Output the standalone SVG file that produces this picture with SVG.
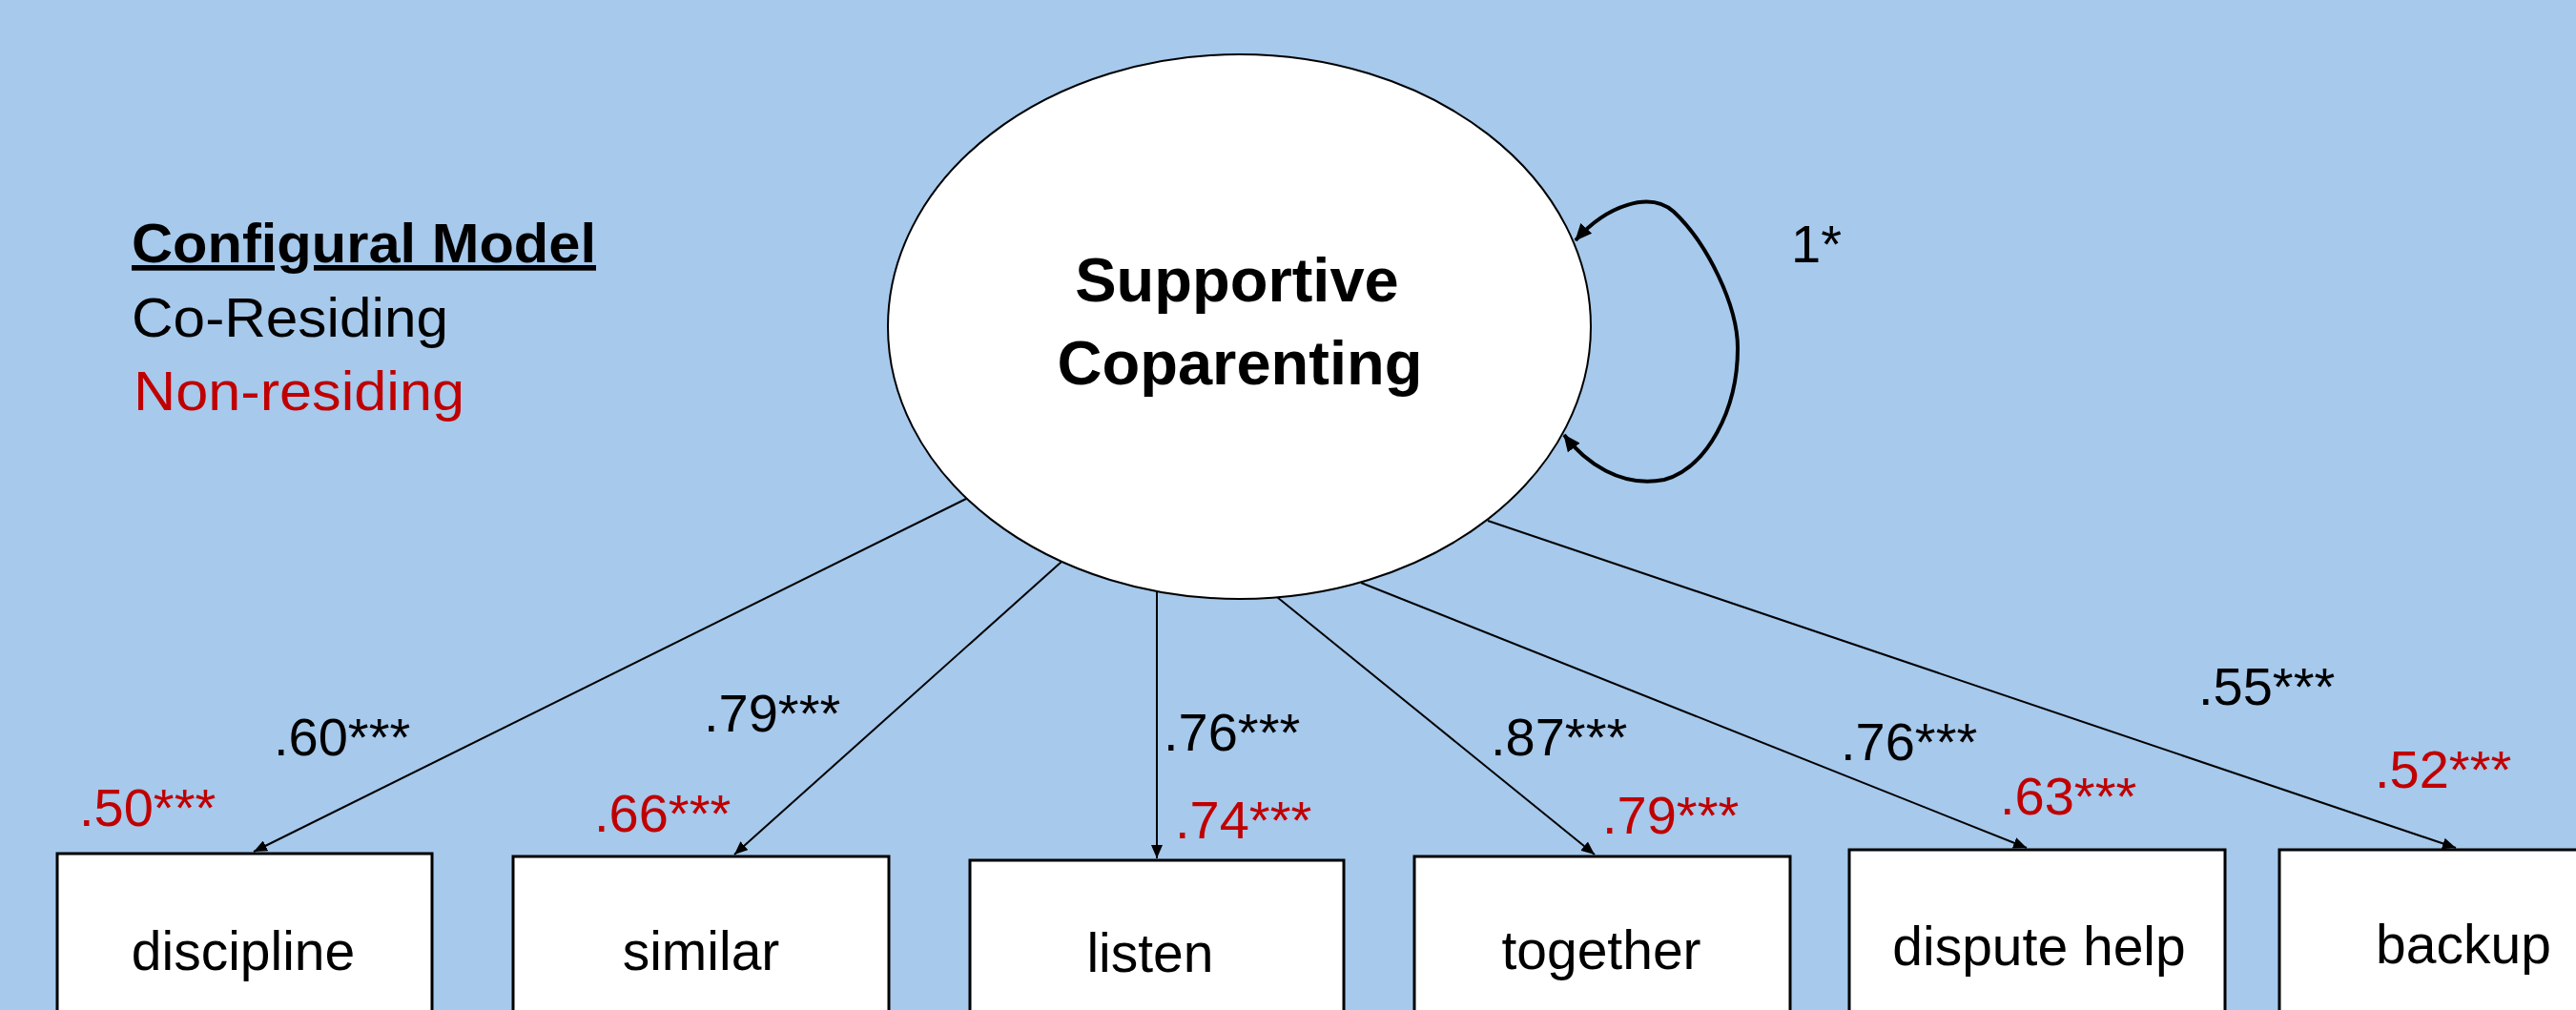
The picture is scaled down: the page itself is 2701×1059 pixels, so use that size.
<svg xmlns="http://www.w3.org/2000/svg" width="2701" height="1059" viewBox="0 0 2701 1059">
<style>
.bg{fill:#A6C9EC}
.box{fill:#FFFFFF;stroke:#000000;stroke-width:3}
.ell{fill:#FFFFFF;stroke:#000000;stroke-width:2}
.lbl{font-family:"Liberation Sans",Arial,sans-serif;font-size:57px;fill:#000000;text-anchor:middle}
.lat{font-family:"Liberation Sans",Arial,sans-serif;font-size:65px;font-weight:bold;fill:#000000;text-anchor:middle}
.coef{font-family:"Liberation Sans",Arial,sans-serif;font-size:56px;fill:#000000}
.leg{font-family:"Liberation Sans",Arial,sans-serif;font-size:57px;fill:#000000}
.edge{stroke:#000000;stroke-width:2;fill:none;marker-end:url(#arr)}
.loop{stroke:#000000;stroke-width:4;fill:none;marker-start:url(#arrL);marker-end:url(#arrL)}
text.red{fill:#C00000}
</style>
<defs>
<marker id="arr" markerUnits="userSpaceOnUse" markerWidth="14" markerHeight="12" refX="14" refY="6" orient="auto">
<path d="M0,0 L14,6 L0,12 z" fill="#000000"/>
</marker>
<marker id="arrL" markerUnits="userSpaceOnUse" markerWidth="18" markerHeight="16" refX="17" refY="8" orient="auto-start-reverse">
<path d="M0,0 L18,8 L0,16 z" fill="#000000"/>
</marker>
</defs>
<rect class="bg" x="0" y="0" width="2701" height="1059"/>

<g id="connectors">
<line class="edge" x1="1015" y1="522" x2="266" y2="893"/>
<line class="edge" x1="1113" y1="589" x2="770" y2="896"/>
<line class="edge" x1="1213" y1="621" x2="1213" y2="900"/>
<line class="edge" x1="1339" y1="626" x2="1672" y2="896"/>
<line class="edge" x1="1427" y1="611" x2="2125" y2="889"/>
<line class="edge" x1="1560" y1="546" x2="2575" y2="889"/>
<path class="loop" d="M1652,252 C1685,215 1730,200 1755,222 C1790,255 1822,320 1822,365 C1822,430 1790,490 1745,503 C1700,512 1662,485 1640,456"/>
</g>

<g id="supportive-coparenting">
<ellipse class="ell" cx="1299.5" cy="342.5" rx="368.5" ry="285.5"/>
<text class="lat" x="1297" y="316">Supportive</text>
<text class="lat" x="1300" y="403">Coparenting</text>
</g>

<g id="discipline">
<rect class="box" x="60" y="895" width="393" height="200"/>
<text class="lbl" x="255" y="1017">discipline</text>
</g>
<g id="similar">
<rect class="box" x="538" y="898" width="394" height="200"/>
<text class="lbl" x="735" y="1017">similar</text>
</g>
<g id="listen">
<rect class="box" x="1017" y="902" width="392" height="200"/>
<text class="lbl" x="1206" y="1019">listen</text>
</g>
<g id="together">
<rect class="box" x="1483" y="898" width="394" height="200"/>
<text class="lbl" x="1679" y="1016">together</text>
</g>
<g id="dispute-help">
<rect class="box" x="1939" y="891" width="394" height="200"/>
<text class="lbl" x="2138" y="1012">dispute help</text>
</g>
<g id="backup">
<rect class="box" x="2390" y="891" width="394" height="200"/>
<text class="lbl" x="2583" y="1010">backup</text>
</g>

<g id="coefficients">
<text class="coef" x="1878" y="275">1*</text>
<text class="coef" x="287" y="792">.60***</text>
<text class="coef red" x="83" y="866">.50***</text>
<text class="coef" x="738" y="767">.79***</text>
<text class="coef red" x="623" y="872">.66***</text>
<text class="coef" x="1220" y="787">.76***</text>
<text class="coef red" x="1232" y="879">.74***</text>
<text class="coef" x="1563" y="792">.87***</text>
<text class="coef red" x="1680" y="874">.79***</text>
<text class="coef" x="1930" y="797">.76***</text>
<text class="coef red" x="2097" y="854">.63***</text>
<text class="coef" x="2305" y="739">.55***</text>
<text class="coef red" x="2490" y="826">.52***</text>
</g>

<g id="legend">
<text class="leg" x="138" y="275" font-weight="bold" text-decoration="underline" textLength="487" lengthAdjust="spacingAndGlyphs">Configural Model</text>
<text class="leg" x="138" y="353" textLength="332" lengthAdjust="spacingAndGlyphs">Co-Residing</text>
<text class="leg red" x="140" y="430" textLength="347" lengthAdjust="spacingAndGlyphs">Non-residing</text>
</g>
</svg>
